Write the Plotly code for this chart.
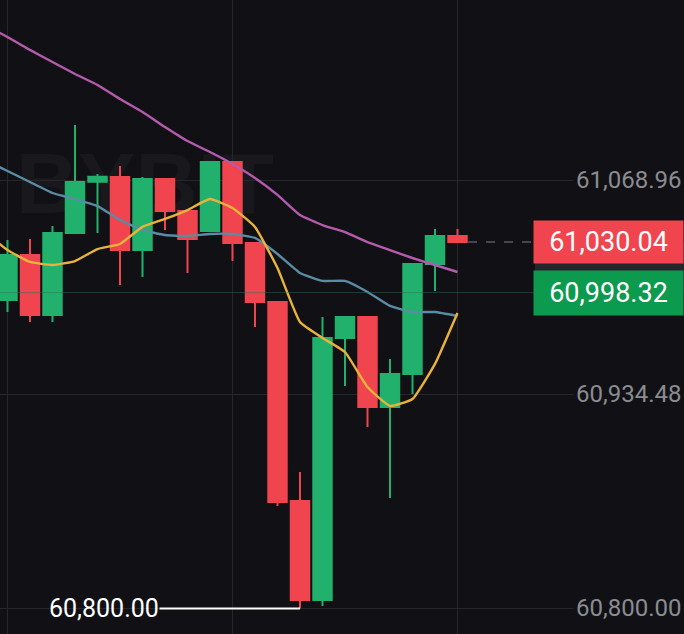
import plotly.graph_objects as go

# ---------------- data ----------------
candle_index = list(range(1, 22))
opens = [60993.6, 61021.9, 60984.2, 61035.7, 61067.9, 61070.8, 61025.0, 61069.6, 61049.5, 61037.0,
         61080.3, 61029.4, 60992.4, 60867.5, 60805.3, 60969.8, 60983.0, 60926.5, 60947.2, 61016.2,
         61033.8]
highs = [61031.3, 61031.9, 61040.1, 61103.5, 61072.7, 61077.8, 61070.8, 61069.6, 61049.5, 61080.3,
         61080.3, 61029.4, 60992.4, 60885.7, 60983.0, 60983.0, 60983.0, 60956.6, 61016.2, 61038.2,
         61038.2]
lows = [60986.1, 60979.8, 60979.8, 61035.7, 61035.7, 61003.1, 61008.1, 61037.6, 61010.6, 61037.0,
        61018.1, 60976.7, 60864.3, 60800.0, 60801.6, 60939.7, 60913.9, 60869.4, 60934.6, 60999.3,
        61030.04]
closes = [61021.9, 60984.2, 61035.7, 61067.7, 61071.0, 61025.0, 61069.6, 61049.5, 61031.9, 61080.3,
          61029.4, 60992.4, 60866.8, 60805.3, 60969.8, 60983.0, 60926.5, 60947.2, 61016.2, 61033.8,
          61030.04]

ma_index = list(range(0, 22))
ma_fast = [61036.3, 61025.0, 61017.5, 61015.6, 61018.1, 61025.6, 61028.8, 61039.5, 61044.5, 61050.1,
           61057.0, 61051.4, 61039.5, 61013.7, 60979.8, 60969.8, 60961.0, 60939.0, 60927.1, 60931.5,
           60953.5, 60985.5]
ma_mid = [61081.5, 61074.6, 61067.7, 61060.8, 61057.0, 61052.6, 61043.9, 61037.6, 61034.4, 61033.8,
          61035.1, 61035.1, 61032.6, 61022.5, 61010.6, 61005.6, 61005.6, 60998.7, 60989.9, 60986.1,
          60986.1, 60983.6]
ma_slow = [61166.3, 61158.7, 61150.6, 61143.0, 61135.5, 61128.6, 61119.8, 61111.6, 61102.2, 61093.4,
           61086.5, 61079.0, 61070.2, 61059.6, 61047.0, 61040.7, 61036.3, 61030.0, 61025.0, 61020.0,
           61015.6, 61011.2]

price_ticks = [60800.00, 60934.48, 61068.96, 61203.44]
time_grid = [1, 11, 21]
last_price = 61030.04
mark_price = 60998.32
low_price = 60800.00
low_at = 14
watermark = "BYBIT"

# ---------------- style ----------------
BG = "#111115"
GRID = "#26262b"
GREEN = "#22b16c"
RED = "#f0454e"
X_RANGE = [0.667, 31.067]
Y_RANGE = [60783.99, 61181.94]

fig = go.Figure()

fig.add_trace(go.Candlestick(
    x=candle_index, open=opens, high=highs, low=lows, close=closes,
    increasing=dict(line=dict(color=GREEN, width=2), fillcolor=GREEN),
    decreasing=dict(line=dict(color=RED, width=2), fillcolor=RED),
    whiskerwidth=0, hoverinfo="skip", showlegend=False))

for vals, col in [(ma_slow, "#b55aae"), (ma_mid, "#5a8ca5"), (ma_fast, "#e9b23b")]:
    fig.add_trace(go.Scatter(x=ma_index, y=vals, mode="lines",
                             line=dict(color=col, width=2.4, shape="spline", smoothing=0.4),
                             hoverinfo="skip", showlegend=False))

# last price dashed line
fig.add_trace(go.Scatter(x=[candle_index[-1] + 0.47, X_RANGE[1]], y=[last_price, last_price],
                         mode="lines", line=dict(color="#7d7f85", width=1, dash="dash"),
                         hoverinfo="skip", showlegend=False))

shapes = [
    # watermark, beneath the traces
    dict(type="rect", xref="paper", yref="paper", x0=10 / 684, x1=280 / 684,
         y0=1 - 215 / 634, y1=1 - 135 / 634, line=dict(width=0), fillcolor="rgba(0,0,0,0)",
         layer="below",
         label=dict(text=watermark, textposition="middle center",
                    font=dict(family="Liberation Sans", size=86, color="#19191d", weight="bold"))),
    dict(type="line", xref="paper", x0=0, x1=1, yref="y", y0=mark_price, y1=mark_price,
         line=dict(color="rgba(45,110,90,0.45)", width=1), layer="above"),
    dict(type="rect", xref="paper", x0=535 / 684, x1=1, yref="y", y0=mark_price, y1=last_price,
         fillcolor="#23272c", line=dict(width=0), layer="above"),
]

annotations = []
for p in price_ticks:
    annotations.append(dict(
        x=1, xref="paper", y=p, yref="y", xanchor="right", yanchor="middle",
        text=f"{p:,.2f}", showarrow=False, bgcolor=BG, borderpad=2,
        font=dict(family="Roboto", size=24, color="#8b8c91")))

annotations.append(dict(
    x=1, xref="paper", y=last_price, yref="y", xanchor="right", yanchor="middle",
    text=f"{last_price:,.2f}", showarrow=False, bgcolor=RED, width=149, height=42,
    borderpad=0, align="center", valign="middle",
    font=dict(family="Roboto", size=27, color="#ffffff")))
annotations.append(dict(
    x=1, xref="paper", y=mark_price, yref="y", xanchor="right", yanchor="middle",
    text=f"{mark_price:,.2f}", showarrow=False, bgcolor="#0c9a4e", width=149, height=44,
    borderpad=0, align="center", valign="middle",
    font=dict(family="Roboto", size=27, color="#ffffff")))

annotations.append(dict(
    x=low_at, xref="x", y=low_price, yref="y",
    text=f"{low_price:,.2f}", showarrow=True, arrowhead=0, arrowwidth=2,
    arrowcolor="#ffffff", ax=-196, ay=0, axref="pixel", ayref="pixel",
    standoff=0, startstandoff=0, borderpad=0,
    font=dict(family="Roboto", size=25, color="#ffffff")))

fig.update_layout(
    width=684, height=634,
    margin=dict(l=0, r=0, t=0, b=0),
    paper_bgcolor=BG, plot_bgcolor=BG,
    boxgap=0.18, boxgroupgap=0,
    showlegend=False,
    shapes=shapes, annotations=annotations,
    xaxis=dict(range=X_RANGE, tickvals=time_grid, showticklabels=False, showgrid=True,
               gridcolor=GRID, gridwidth=1, zeroline=False, showline=False,
               rangeslider=dict(visible=False), fixedrange=True),
    yaxis=dict(range=Y_RANGE, tickvals=price_ticks, showticklabels=False, showgrid=True,
               gridcolor=GRID, gridwidth=1, zeroline=False, showline=False, fixedrange=True),
)

fig.write_html("out.html", config={"displayModeBar": False},
               post_script="document.body.style.margin='0';")
